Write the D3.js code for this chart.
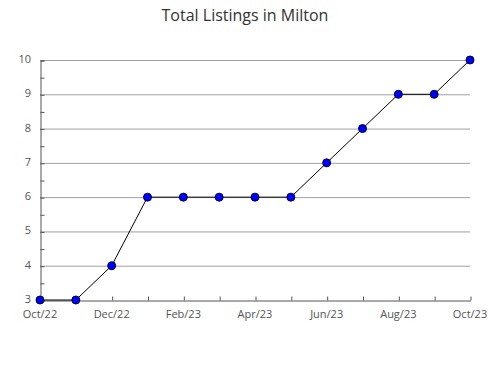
<!DOCTYPE html>
<html><head><meta charset="utf-8">
<script src="https://cdn.jsdelivr.net/npm/d3@7"></script>
<style>body{margin:0;background:#fff}svg{display:block}</style>
</head><body><svg id="c" width="490" height="380"></svg>
<script>
const months = ["Oct/22","Nov/22","Dec/22","Jan/23","Feb/23","Mar/23","Apr/23","May/23","Jun/23","Jul/23","Aug/23","Sep/23","Oct/23"];
const listings = [3,3,4,6,6,6,6,6,7,8,9,9,10];
const yTicks = [3,4,5,6,7,8,9,10];
const title = "Total Listings in Milton";

const svg = d3.select("#c");
const font = "'Open Sans', 'Noto Sans', sans-serif";
const x = d3.scalePoint().domain(months).range([40, 470]);
const y = d3.scaleLinear().domain([3, 10]).range([300, 60]);

svg.append("text").attr("x", 245).attr("y", 21).attr("text-anchor", "middle")
  .attr("font-family", font).attr("font-size", 16).attr("fill", "#333").text(title);

// gridlines
svg.append("g").selectAll("line").data(yTicks.slice(1)).join("line")
  .attr("x1", 40).attr("x2", 470).attr("y1", d => y(d) + 0.5).attr("y2", d => y(d) + 0.5)
  .attr("stroke", "#a0a0a0").attr("stroke-width", 1);

// y axis
const yAx = svg.append("g").attr("transform", "translate(40.5,0.5)")
  .call(d3.axisRight(y).tickValues(d3.range(3, 10.01, 0.5)).tickSize(4).tickFormat(""));
yAx.select(".domain").attr("stroke", "#555");
yAx.selectAll(".tick line").attr("stroke", "#555");
svg.append("g").selectAll("text").data(yTicks).join("text")
  .attr("x", 31).attr("y", d => y(d) + 3).attr("text-anchor", "end")
  .attr("font-family", font).attr("font-size", 11).attr("fill", "#555").text(d => d);

// x axis
const xAx = svg.append("g").attr("transform", "translate(0.5,300.5)")
  .call(d3.axisTop(x).tickSize(4).tickSizeOuter(0).tickFormat(""));
xAx.select(".domain").attr("stroke", "#555");
xAx.selectAll(".tick line").attr("stroke", "#555");
svg.append("g").selectAll("text").data(months.filter((m, i) => i % 2 === 0)).join("text")
  .attr("x", d => x(d)).attr("y", 318).attr("text-anchor", "middle")
  .attr("font-family", font).attr("font-size", 11).attr("fill", "#555").text(d => d);

// line
svg.append("path").datum(listings)
  .attr("d", d3.line().x((d, i) => x(months[i])).y(d => y(d)))
  .attr("fill", "none").attr("stroke", "#000").attr("stroke-width", 1);

svg.append("g").selectAll("circle").data(listings).join("circle")
  .attr("cx", (d, i) => x(months[i])).attr("cy", d => y(d)).attr("r", 4)
  .attr("fill", "#0000ff").attr("stroke", "#000033").attr("stroke-width", 1);
</script></body></html>
